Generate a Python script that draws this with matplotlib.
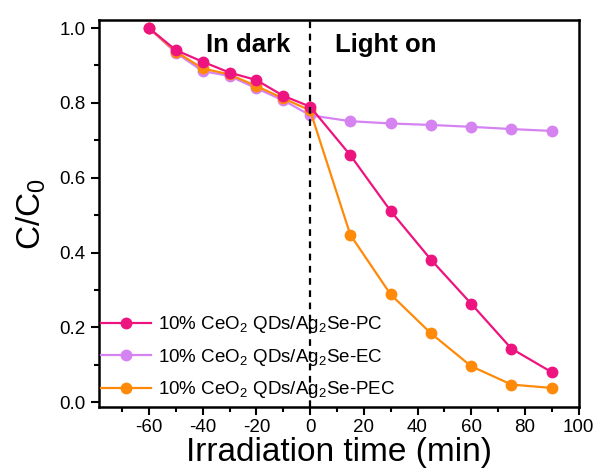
import matplotlib
matplotlib.use("Agg")
import matplotlib.pyplot as plt
from matplotlib.ticker import MultipleLocator

plt.rcParams['font.family'] = ['Liberation Sans', 'DejaVu Sans']
plt.rcParams['axes.unicode_minus'] = False
plt.rcParams['mathtext.fontset'] = 'custom'
plt.rcParams['mathtext.rm'] = 'Liberation Sans'
plt.rcParams['mathtext.it'] = 'Liberation Sans'

# time points (min)
time = [-60, -50, -40, -30, -20, -10, 0, 15, 30, 45, 60, 75, 90]

pc = [1.0, 0.941, 0.910, 0.881, 0.861, 0.819, 0.790, 0.660, 0.511, 0.381, 0.263, 0.143, 0.080]
ec = [1.0, 0.934, 0.885, 0.872, 0.839, 0.807, 0.767, 0.751, 0.745, 0.741, 0.736, 0.730, 0.725]
pec = [1.0, 0.937, 0.892, 0.876, 0.845, 0.812, 0.780, 0.447, 0.288, 0.184, 0.096, 0.047, 0.038]

labels = ["10% CeO$_2$ QDs/Ag$_2$Se-PC",
          "10% CeO$_2$ QDs/Ag$_2$Se-EC",
          "10% CeO$_2$ QDs/Ag$_2$Se-PEC"]
colors = ["#EE1480", "#D683F2", "#FF8A0A"]

fig = plt.figure(figsize=(5.98, 4.70), dpi=100)
ax = fig.add_axes([0.1656, 0.134, 0.802, 0.823])

# draw violet first, then orange, pink on top
h_ec, = ax.plot(time, ec, "-o", color=colors[1], lw=1.6, ms=7.5, label=labels[1])
h_pec, = ax.plot(time, pec, "-o", color=colors[2], lw=1.6, ms=7.5, label=labels[2])
h_pc, = ax.plot(time, pc, "-o", color=colors[0], lw=1.6, ms=7.5, label=labels[0])

ax.axvline(0, color="black", ls=(0, (3, 2.5)), lw=1.6)

ax.text(-23, 0.936, "In dark", fontsize=18.5, fontweight="bold", ha="center", va="baseline")
ax.text(28, 0.936, "Light on", fontsize=18.5, fontweight="bold", ha="center", va="baseline")

ax.set_xlim(-78.6, 100)
ax.set_ylim(-0.013, 1.021)
ax.xaxis.set_minor_locator(MultipleLocator(10))
ax.yaxis.set_minor_locator(MultipleLocator(0.1))
ax.set_xticks([-60, -40, -20, 0, 20, 40, 60, 80, 100])
ax.set_yticks([0.0, 0.2, 0.4, 0.6, 0.8, 1.0])
ax.set_yticklabels(["0.0", "0.2", "0.4", "0.6", "0.8", "1.0"])
ax.tick_params(which="both", direction="out", width=1.5, labelsize=13.5, top=False, right=False)
ax.tick_params(which="major", length=6)
ax.tick_params(which="minor", length=3.5)
ax.tick_params(axis="x", pad=2.5)
for s in ax.spines.values():
    s.set_linewidth(1.8)

ax.set_xlabel("Irradiation time (min)", fontsize=24, labelpad=0.5)
ax.set_ylabel("C/C$_0$", fontsize=24, labelpad=8)

ax.legend(handles=[h_pc, h_ec, h_pec], loc="lower left", frameon=False,
          fontsize=13.5, handlelength=2.65, handletextpad=0.36, labelspacing=0.62,
          borderaxespad=0.0, borderpad=0.0, bbox_to_anchor=(0.005, 0.017))

fig.savefig("out.png", dpi=100)
